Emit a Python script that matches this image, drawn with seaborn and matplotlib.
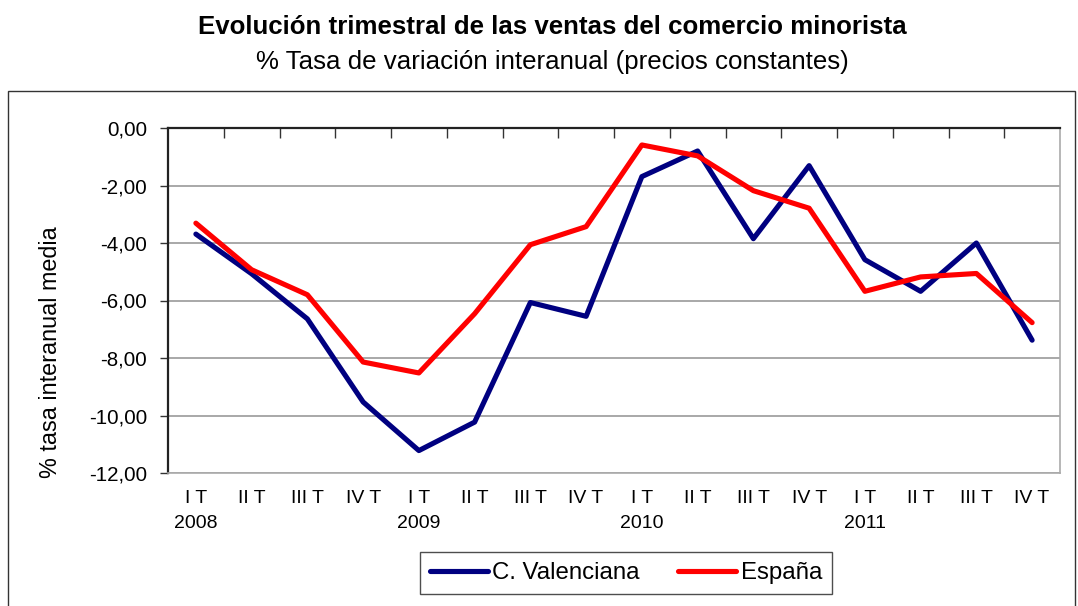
import numpy as np
import pandas as pd
import matplotlib
matplotlib.use("Agg")
import matplotlib.pyplot as plt
import seaborn as sns
from matplotlib.patches import Rectangle
from matplotlib.lines import Line2D

quarters = ["I T", "II T", "III T", "IV T"]
years = ["2008", "2009", "2010", "2011"]

valenciana = [-3.69, -5.07, -6.64, -9.53, -11.22, -10.23, -6.07, -6.55,
              -1.69, -0.80, -3.85, -1.31, -4.58, -5.68, -4.00, -7.38]
espana = [-3.31, -4.93, -5.80, -8.14, -8.52, -6.46, -4.06, -3.43,
          -0.59, -0.97, -2.18, -2.79, -5.68, -5.18, -5.06, -6.77]

tick_labels = []
for y in years:
    for i, q in enumerate(quarters):
        tick_labels.append(q + "\n" + y if i == 0 else q + "\n")

n = len(valenciana)
data = pd.DataFrame({
    "t": list(range(n)) * 2,
    "valor": valenciana + espana,
    "serie": ["C. Valenciana"] * n + ["España"] * n,
})
colors = {"C. Valenciana": "#000080", "España": "#FF0000"}

sns.set_style("white")
plt.rcParams["font.family"] = ["Liberation Sans", "DejaVu Sans"]
plt.rcParams["text.color"] = "black"
plt.rcParams["xtick.color"] = "black"
plt.rcParams["ytick.color"] = "black"
plt.rcParams["axes.labelcolor"] = "black"

fig = plt.figure(figsize=(10.78, 6.06), dpi=100)
ax = fig.add_axes([168 / 1078, 1 - 473 / 606, (1060 - 168) / 1078, (473 - 128) / 606])

sns.lineplot(data=data, x="t", y="valor", hue="serie", palette=colors,
             linewidth=3.7, ax=ax, legend=False, solid_capstyle="round")

ax.set_xlim(-0.5, n - 0.5)
ax.set_ylim(-12, 0)
ax.set_yticks(np.arange(-12, 0.1, 2))
ax.set_yticklabels([f"{v:.2f}".replace(".", ",") for v in np.arange(-12, 0.1, 2)], fontsize=14.8)
ax.yaxis.grid(True, color="#999999", linewidth=1.2)
ax.set_axisbelow(True)

ax.set_xticks(range(n))
ax.set_xticklabels(tick_labels, fontsize=14, linespacing=1.65)
ax.set_xticks(np.arange(0.5, n - 0.5, 1), minor=True)
ax.tick_params(axis="x", which="major", length=0, pad=12)
ax.tick_params(axis="x", which="minor", bottom=False, top=True, direction="in",
               length=7, width=1, color="#333333")
ax.tick_params(axis="y", which="major", left=True, direction="out", length=6,
               width=1, color="#333333", pad=9)

ax.set_xlabel("")
ax.set_ylabel("% tasa interanual media", fontsize=16.8)
ax.yaxis.set_label_coords(-0.119, 0.35)

for side in ["top", "left"]:
    ax.spines[side].set_color("#222222")
    ax.spines[side].set_linewidth(1.6)
for side in ["right", "bottom"]:
    ax.spines[side].set_color("#aaaaaa")
    ax.spines[side].set_linewidth(1.2)

fig.text(552 / 1078, 1 - 27 / 606, "Evolución trimestral de las ventas del comercio minorista",
         ha="center", va="center", fontsize=18.6, fontweight="bold")
fig.text(552 / 1078, 1 - 62 / 606, "% Tasa de variación interanual (precios constantes)",
         ha="center", va="center", fontsize=18.6)

fig.patches.append(Rectangle((8 / 1078, -0.01), 1067 / 1078, (606 - 91) / 606 + 0.01,
                             transform=fig.transFigure, fill=False,
                             edgecolor="#333333", linewidth=1))

handles = [Line2D([0], [0], color=colors[k], linewidth=3.7, solid_capstyle="round")
           for k in colors]
leg = fig.legend(handles, list(colors.keys()), loc="center",
                 bbox_to_anchor=(626 / 1078, 1 - 573 / 606), ncol=2, fontsize=17.3,
                 frameon=True, fancybox=False, edgecolor="#222222",
                 handlelength=2.4, handletextpad=0.2, columnspacing=1.6,
                 borderpad=0.4)
leg.get_frame().set_linewidth(1)

fig.savefig("out.png", dpi=100)
